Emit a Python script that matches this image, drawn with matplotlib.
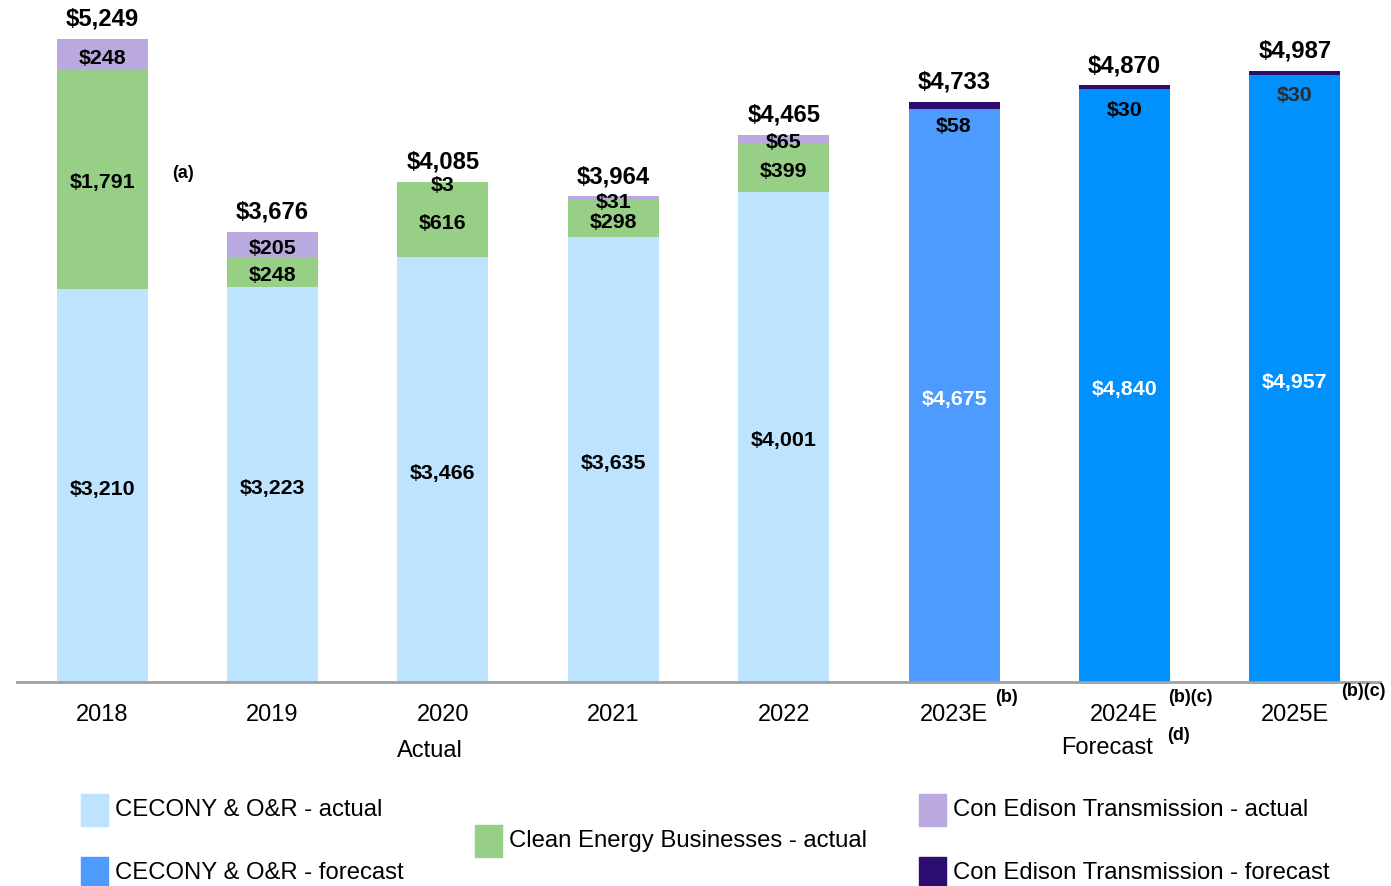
"""Con Edison capital expenditures, actual 2018-2022 and forecast 2023E-2025E."""

import matplotlib.pyplot as plt
import numpy as np
from matplotlib.patches import Rectangle

plt.rcParams["font.family"] = ["Liberation Sans", "DejaVu Sans"]

years = ["2018", "2019", "2020", "2021", "2022", "2023E", "2024E", "2025E"]
is_forecast = [False, False, False, False, False, True, True, True]

# $ millions per segment
cecony_or = [3210, 3223, 3466, 3635, 4001, 4675, 4840, 4957]
clean_energy = [1791, 248, 616, 298, 399, 0, 0, 0]
transmission = [248, 205, 3, 31, 65, 58, 30, 30]
totals = [5249, 3676, 4085, 3964, 4465, 4733, 4870, 4987]

LIGHT_BLUE = "#BDE3FE"
GREEN = "#98CF87"
PURPLE = "#B9A9DF"
FORECAST_BLUE = ["#4D9BFF", "#0091FF", "#0091FF"]
DARK_PURPLE = "#2D0D70"


def money(v):
    return f"${v:,.0f}"


def main():
    fig = plt.figure(figsize=(13.91, 8.87), dpi=100)
    ax = fig.add_axes([17 / 1391, 1 - 683 / 887, 1363 / 1391, 683 / 887])

    x = np.arange(len(years))
    width = 0.534

    base_colors = [LIGHT_BLUE] * 5 + FORECAST_BLUE
    top_colors = [PURPLE if not f else DARK_PURPLE for f in is_forecast]

    ax.bar(x, cecony_or, width, color=base_colors)
    ax.bar(x, clean_energy, width, bottom=cecony_or, color=GREEN)
    lower = np.array(cecony_or) + np.array(clean_energy)
    ax.bar(x, transmission, width, bottom=lower, color=top_colors)

    bold = dict(ha="center", va="center", fontsize=15.4, fontweight="bold")
    for i in range(len(years)):
        fc = is_forecast[i]
        ax.annotate(money(cecony_or[i]), (x[i], cecony_or[i] / 2),
                    xytext=(0, -2), textcoords="offset points",
                    color="white" if fc else "black", **bold)
        if clean_energy[i]:
            ax.annotate(money(clean_energy[i]), (x[i], cecony_or[i] + clean_energy[i] / 2),
                        xytext=(0, -2), textcoords="offset points", **bold)
        if fc:
            ax.annotate(money(transmission[i]), (x[i], totals[i]),
                        xytext=(0, -17), textcoords="offset points",
                        color="#2b2b2b" if i == 7 else "black", **bold)
        else:
            ax.annotate(money(transmission[i]), (x[i], lower[i] + transmission[i] / 2),
                        xytext=(0, -2), textcoords="offset points", **bold)
        ax.annotate(money(totals[i]), (x[i], totals[i]),
                    xytext=(0, 15), textcoords="offset points",
                    ha="center", va="center", fontsize=17.2, fontweight="bold")

    ax.set_xlim(-0.5, 7.5)
    ax.set_ylim(0, 5576)
    ax.set_xticks(x)
    ax.set_xticklabels(years, fontsize=17)
    ax.tick_params(axis="x", length=0, pad=15)
    ax.set_yticks([])
    for side in ["top", "right", "left"]:
        ax.spines[side].set_visible(False)
    ax.spines["bottom"].set_color("#A0A0A0")
    ax.spines["bottom"].set_linewidth(2)

    def ftext(px, py, s, **kw):
        fig.text(px / 1391, 1 - py / 887, s, **kw)

    note = dict(fontsize=13, fontweight="bold", ha="center", va="center")
    ftext(183, 173, "(a)", **note)
    ftext(1007, 698, "(b)", **note)
    ftext(1190, 698, "(b)(c)", **note)
    ftext(1363, 692, "(b)(c)", **note)
    ftext(1178, 736, "(d)", **note)
    ftext(430, 751, "Actual", fontsize=17, ha="center", va="center")
    ftext(1107, 748, "Forecast", fontsize=17, ha="center", va="center")

    legend_items = [
        (81, 795, LIGHT_BLUE, "CECONY & O&R - actual"),
        (475, 826, GREEN, "Clean Energy Businesses - actual"),
        (81, 858, FORECAST_BLUE[0], "CECONY & O&R - forecast"),
        (919, 795, PURPLE, "Con Edison Transmission - actual"),
        (919, 858, DARK_PURPLE, "Con Edison Transmission - forecast"),
    ]
    for px, py, color, label in legend_items:
        fig.patches.append(Rectangle((px / 1391, 1 - (py + 32) / 887), 27 / 1391, 32 / 887,
                                     transform=fig.transFigure, color=color))
        ftext(px + 34, py + 15, label, fontsize=17.2, ha="left", va="center")

    fig.savefig("out.png", dpi=100)
    plt.close(fig)


if __name__ == "__main__":
    main()
